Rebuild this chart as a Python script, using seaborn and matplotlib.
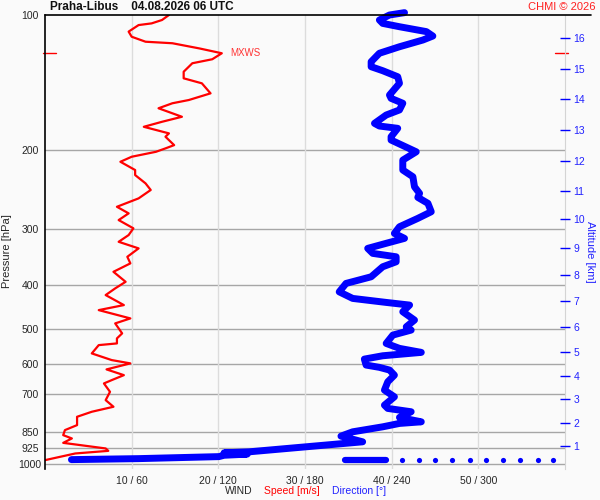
import numpy as np
import pandas as pd
import matplotlib
matplotlib.use('Agg')
import matplotlib.pyplot as plt
import matplotlib.transforms as mtransforms
from matplotlib.lines import Line2D
from matplotlib.ticker import NullLocator
import seaborn as sns

# wind speed profile [m/s] vs pressure [hPa]
spd_p = [100, 102.6, 104.4, 105.3, 108.9, 111.8, 114.7, 115.6, 118.7, 121.7,
         125.5, 128.1, 133.8, 138.4, 142.0, 149.5, 154.7, 157.3, 161.4, 168.6,
         173.0, 177.5, 183.6, 186.8, 195.0, 198.3, 201.8, 207.0, 212.4, 221.6,
         227.4, 237.3, 245.5, 256.3, 267.6, 276.8, 286.5, 298.9, 309.4, 320.3,
         331.3, 345.9, 357.8, 373.6, 393.3, 406.8, 421.0, 443.2, 454.8, 474.6,
         486.9, 512.5, 525.9, 539.6, 544.3, 568.0, 587.8, 597.8, 616.6, 635.0,
         651.4, 662.6, 691.8, 721.9, 746.9, 766.3, 786.3, 820.6, 842.0, 864.0,
         878.8, 898.9, 925.1, 936.6, 949.2, 982.3]
spd = [14.3, 13.5, 12.3, 10.8, 9.65, 10.0, 11.6, 14.7, 17.8, 20.4,
       19.3, 17.0, 16.0, 16.0, 18.1, 19.1, 16.6, 14.7, 13.1, 15.8,
       13.5, 11.4, 14.3, 13.9, 14.9, 13.9, 12.8, 10.0, 8.7, 10.4,
       10.4, 11.6, 12.2, 10.8, 8.3, 9.65, 8.5, 10.2, 9.65, 8.5,
       10.8, 9.5, 9.85, 7.9, 9.3, 8.1, 7.0, 9.1, 6.2, 9.85,
       8.1, 8.9, 8.3, 8.3, 6.2, 5.4, 7.7, 9.85, 7.1, 9.1,
       7.7, 6.8, 7.5, 7.0, 7.9, 5.4, 3.7, 3.7, 2.3, 2.1,
       3.1, 2.1, 7.0, 7.3, 3.5, 0.0]

# wind direction profile [deg] vs pressure [hPa]
dir_p = [98.8, 100, 102.6, 104.4, 106.2, 108.9, 111.4, 113.7, 117.7, 121.7,
         127.1, 130.4, 133.1, 137.3, 142.0, 150.8, 153.4, 157.3, 162.8, 167.1,
         174.4, 176.8, 178.9, 186.8, 190.0, 201.8, 210.6, 221.6, 229.4, 241.5,
         249.8, 255.0, 262.9, 274.5, 284.0, 296.5, 306.8, 314.7, 322.8, 331.3,
         339.9, 345.9, 354.9, 364.1, 383.3, 396.6, 414.1, 428.3, 437.2, 443.2,
         458.7, 478.6, 495.5, 503.9, 517.0, 539.6, 553.5, 565.0, 574.9, 584.8,
         603.0, 610.1, 618.6, 635.0, 657.1, 685.7, 709.7, 740.7, 753.3, 766.3,
         788.9, 806.9, 813.6, 827.9, 849.4, 868.4, 894.1, 941.3, 946.0, 952.5,
         958.0, 964.7, 974.7, 979.7]
wdir = [248.9, 238.5, 231.5, 233.8, 245.4, 264.0, 268.5, 261.6, 245.4, 231.5,
        225.8, 225.8, 233.8, 244.2, 245.4, 238.5, 239.6, 247.7, 245.4, 236.2,
        228.1, 231.5, 244.2, 239.6, 239.6, 257.0, 247.7, 247.7, 254.7, 255.8,
        259.3, 258.1, 265.1, 267.4, 258.1, 245.4, 241.9, 248.9, 236.2, 223.4,
        226.9, 243.1, 243.1, 233.8, 225.8, 208.4, 203.7, 213.0, 236.2, 252.4,
        247.7, 255.8, 250.1, 253.5, 240.8, 236.2, 245.4, 260.5, 233.8, 221.1,
        222.3, 231.5, 238.5, 241.9, 237.3, 235.0, 241.9, 235.0, 237.3, 253.5,
        245.4, 260.5, 245.4, 233.8, 213.0, 204.9, 219.9, 141.2, 124.0, 140.0,
        124.0, 120.4, 64.9, 18.3]

# surface samples of direction
sfc_p = 982
sfc_seg_dir = [208, 236]
sfc_dot_dir = [247, 259, 270, 282, 294, 305, 317, 329, 341, 352]

# axes ticks
p_ticks = [100, 200, 300, 400, 500, 600, 700, 850, 925, 1000]
x_ticks = [10, 20, 30, 40, 50]
x_labels = ['10 / 60', '20 / 120', '30 / 180', '40 / 240', '50 / 300']
alt_km = [1, 2, 3, 4, 5, 6, 7, 8, 9, 10, 11, 12, 13, 14, 15, 16]
alt_p = [914.2, 811.0, 718.1, 638.1, 564.9, 496.3, 433.5, 379.4, 330.3,
         285.5, 246.4, 211.3, 180.4, 154.2, 132.2, 112.5]

sns.set_style('white')
plt.rcParams['font.family'] = ['Liberation Sans', 'DejaVu Sans']

bg = '#fafafa'
fig = plt.figure(figsize=(6, 5), dpi=100, facecolor=bg)
ax = fig.add_axes([45 / 600, 1 - 469 / 500, 520 / 600, 454 / 500])
ax.set_facecolor(bg)

df_s = pd.DataFrame({'p': spd_p, 'speed': spd})
df_d = pd.DataFrame({'p': dir_p, 'speed_eq': np.array(wdir) / 6.0})

sns.lineplot(data=df_d, x='speed_eq', y='p', sort=False, estimator=None,
             color='#0000ff', lw=5, ax=ax, clip_on=False,
             solid_capstyle='round', solid_joinstyle='round')
sns.lineplot(x=np.array(sfc_seg_dir) / 6.0, y=[sfc_p] * len(sfc_seg_dir),
             sort=False, estimator=None, color='#0000ff', lw=4.5, ax=ax,
             solid_capstyle='round')
sns.scatterplot(x=np.array(sfc_dot_dir) / 6.0, y=[sfc_p] * len(sfc_dot_dir),
                color='#0000ff', s=14, linewidth=0, ax=ax)
sns.lineplot(data=df_s, x='speed', y='p', sort=False, estimator=None,
             color='#ff0000', lw=1.6, ax=ax)

ax.set_yscale('log')
ax.set_ylim(1028, 100)
ax.set_xlim(0, 60)
ax.yaxis.set_minor_locator(NullLocator())
ax.set_yticks(p_ticks)
ax.set_yticklabels([str(v) for v in p_ticks], ha='center')
ax.set_xticks(x_ticks)
ax.set_xticklabels(x_labels)
ax.tick_params(axis='y', length=0, labelsize=7.5, pad=10.8)
ax.tick_params(axis='x', length=0, labelsize=7.5, pad=5)
ax.set_xlabel('')
ax.set_ylabel('')

# grid: dark horizontal at pressure levels, light vertical
ax.grid(False)
for p in p_ticks[1:]:
    ax.axhline(p, color='#a6a6a6', lw=1, zorder=0)
for x in x_ticks:
    ax.axvline(x, color='#dcdcdc', lw=1, zorder=0)

for side in ['top', 'bottom']:
    ax.spines[side].set_visible(False)
ax.spines['left'].set_color('black')
ax.spines['left'].set_linewidth(1.2)
ax.spines['right'].set_color('#d4d4d4')

# top line reaching past the right axis
fig.add_artist(Line2D([45 / 600, 591 / 600], [1 - 15 / 500, 1 - 15 / 500],
                      color='black', lw=1.2))

# altitude axis
ax2 = ax.twinx()
ax2.set_yscale('log')
ax2.set_ylim(1028, 100)
ax2.yaxis.set_minor_locator(NullLocator())
ax2.set_yticks(alt_p)
ax2.set_yticklabels([str(k) for k in alt_km])
ax2.tick_params(axis='y', colors='#0000ff', direction='inout', length=7,
                width=1, labelsize=7.5, pad=2.5)
ax2.tick_params(axis='y', labelcolor='#2222ff')
for s in ax2.spines.values():
    s.set_visible(False)

# maximum wind marker
imax = int(np.argmax(spd))
p_mx, s_mx = spd_p[imax], spd[imax]
tr = mtransforms.blended_transform_factory(ax.transAxes, ax.transData)
ax.plot([-0.004, 0.021], [p_mx, p_mx], color='#ff0000', lw=1, transform=tr,
        clip_on=False)
ax.plot([0.98, 1.005], [p_mx, p_mx], color='#ff0000', lw=1, transform=tr,
        clip_on=False)
ax.text(s_mx + 1.0, p_mx, 'MXWS', color='#ff3333', fontsize=7,
        va='center', ha='left')

# texts
fig.text(50 / 600, 1 - 7 / 500, 'Praha-Libus    04.08.2026 06 UTC',
         fontsize=8.5, fontweight='bold', color='#111111', va='center', ha='left')
fig.text(596 / 600, 1 - 7 / 500, 'CHMI © 2026', fontsize=8,
         color='#ff2020', va='center', ha='right')
fig.text(7 / 600, 1 - 251 / 500, 'Pressure [hPa]', rotation=90, fontsize=8,
         va='center', ha='center')
fig.text(590 / 600, 1 - 252 / 500, 'Altitude [km]', rotation=-90,
         fontsize=8, color='#2222ff', va='center', ha='center')
fig.text(225 / 600, 1 - 491 / 500, 'WIND', fontsize=7.5, va='center', ha='left')
fig.text(264 / 600, 1 - 491 / 500, 'Speed [m/s]', fontsize=7.5,
         color='#ff0000', va='center', ha='left')
fig.text(332 / 600, 1 - 491 / 500, 'Direction [°]', fontsize=7.5,
         color='#2222ff', va='center', ha='left')

fig.savefig('out.png', dpi=100, facecolor=bg)
